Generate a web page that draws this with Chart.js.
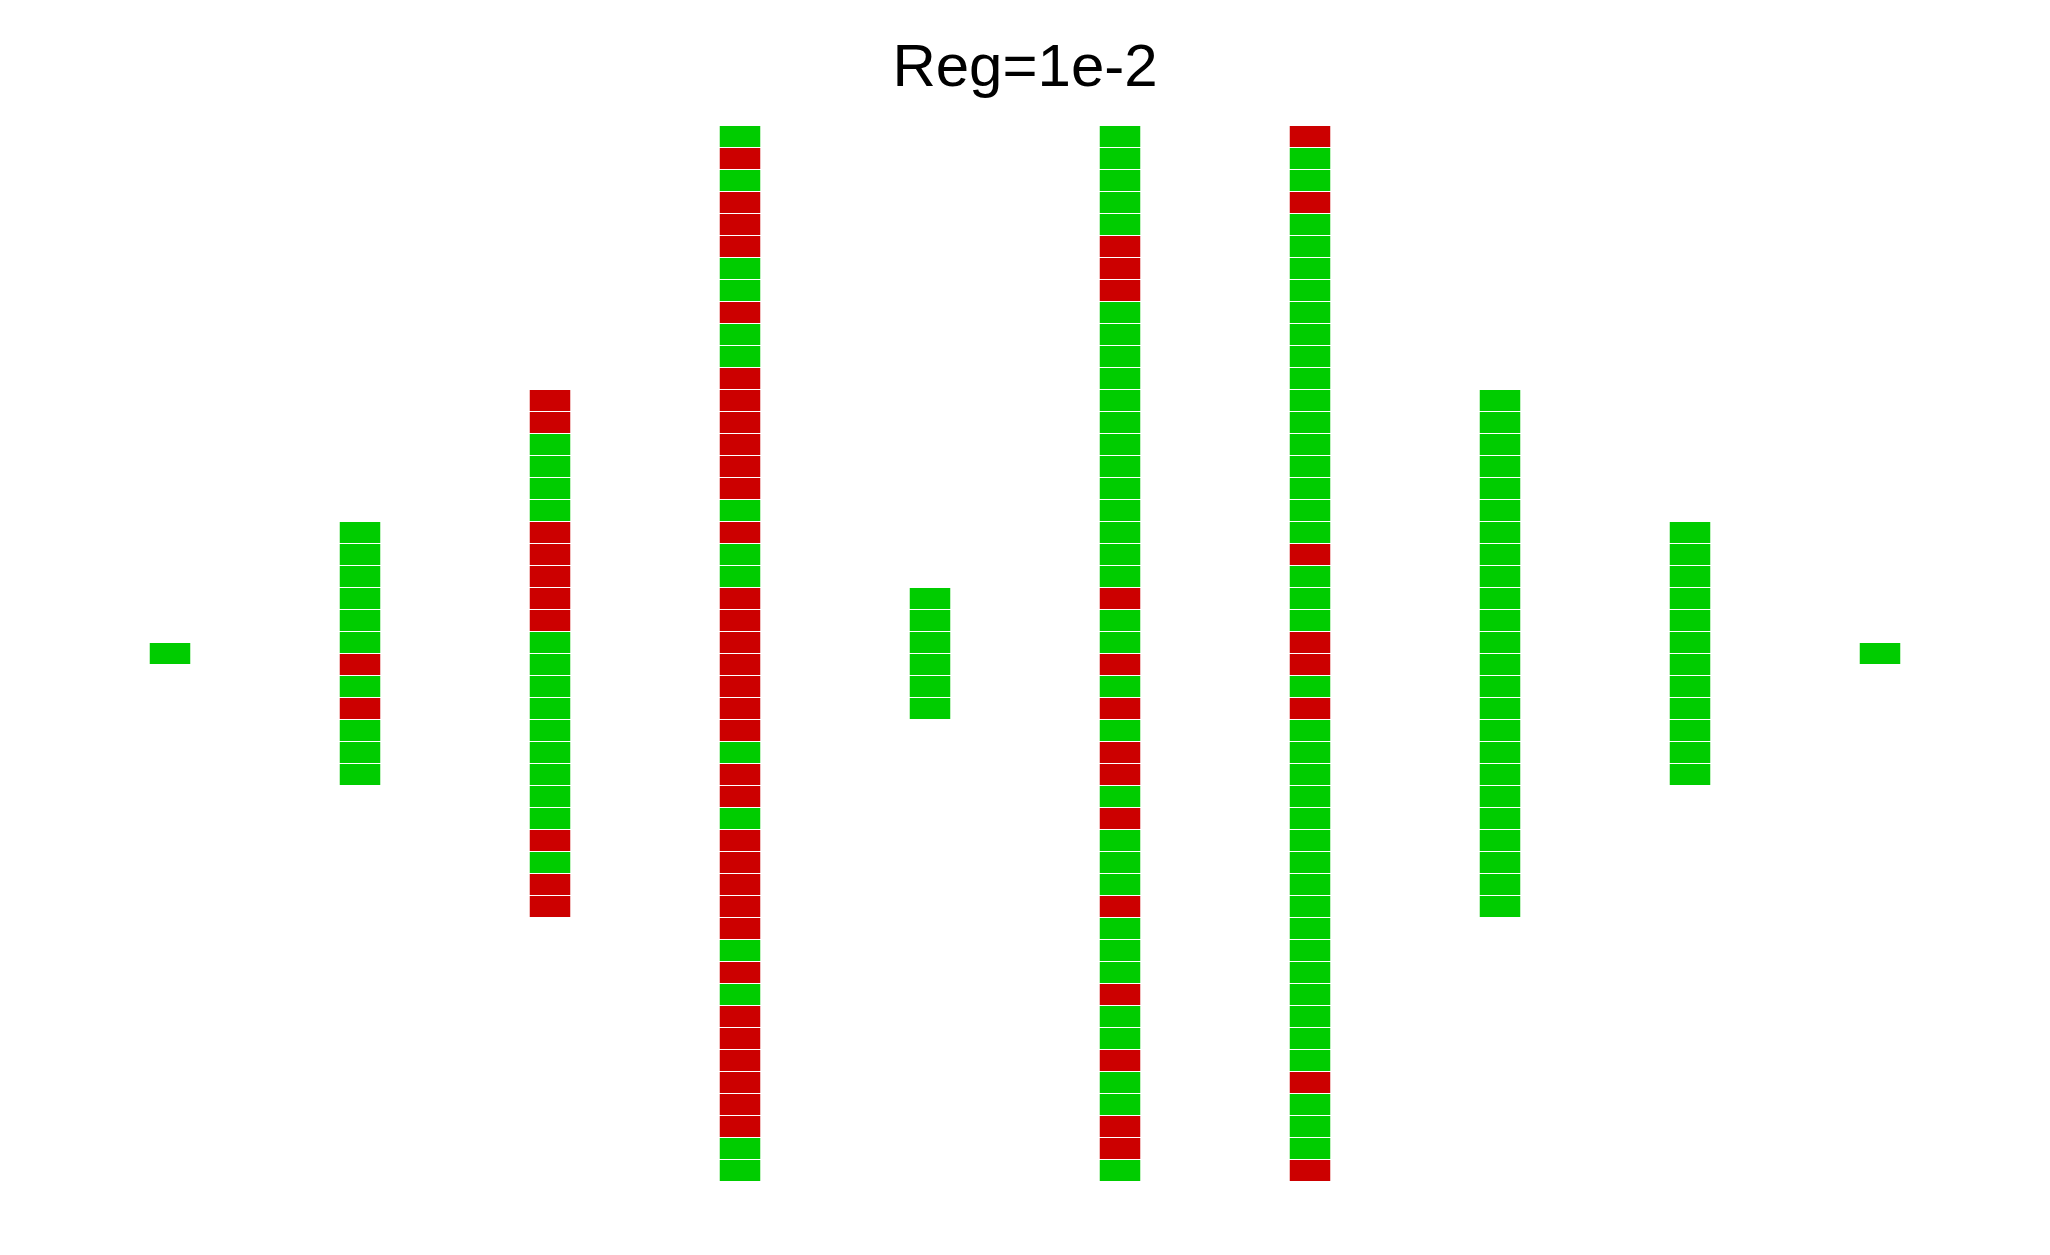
<!DOCTYPE html>
<html>
<head>
<meta charset="utf-8">
<script src="https://cdn.jsdelivr.net/npm/chart.js@4/dist/chart.umd.min.js"></script>
<style>
  html, body { margin: 0; padding: 0; background: #ffffff; }
  #wrap { width: 2050px; height: 1255px; position: relative; }
</style>
</head>
<body>
<div id="wrap"><canvas id="c"></canvas></div>
<script>
// Categories (columns) and per-column cell outcomes, listed top to bottom.
// 1 = correct (green), 0 = wrong (red)
const categories = ['1', '2', '3', '4', '5', '6', '7', '8', '9', '10'];
const col1 = [1];
const col2 = [1,1,1,1,1,1,0,1,0,1,1,1];
const col3 = [0,0,1,1,1,1,0,0,0,0,0,1,1,1,1,1,1,1,1,1,0,1,0,0];
const col4 = [1,0,1,0,0,0,1,1,0,1,1,0,0,0,0,0,0,1,0,1,1,0,0,0,
              0,0,0,0,1,0,0,1,0,0,0,0,0,1,0,1,0,0,0,0,0,0,1,1];
const col5 = [1,1,1,1,1,1];
const col6 = [1,1,1,1,1,0,0,0,1,1,1,1,1,1,1,1,1,1,1,1,1,0,1,1,
              0,1,0,1,0,0,1,0,1,1,1,0,1,1,1,0,1,1,0,1,1,0,0,1];
const col7 = [0,1,1,0,1,1,1,1,1,1,1,1,1,1,1,1,1,1,1,0,1,1,1,0,
              0,1,0,1,1,1,1,1,1,1,1,1,1,1,1,1,1,1,1,0,1,1,1,0];
const col8 = [1,1,1,1,1,1,1,1,1,1,1,1,1,1,1,1,1,1,1,1,1,1,1,1];
const col9 = [1,1,1,1,1,1,1,1,1,1,1,1];
const col10 = [1];
const columns = [col1, col2, col3, col4, col5, col6, col7, col8, col9, col10];
const titleText = 'Reg=1e-2';

const GREEN = '#00cc00';
const RED = '#cc0000';

const maxCells = Math.max(...columns.map(c => c.length));
const datasets = [];
for (let k = 0; k < maxCells; k++) {
  const data = [];
  const colors = [];
  columns.forEach(col => {
    const off = (maxCells - col.length) / 2;
    if (k < col.length) {
      data.push([off + k, off + k + 1]);
      colors.push(col[k] ? GREEN : RED);
    } else {
      data.push(null);
      colors.push(GREEN);
    }
  });
  datasets.push({
    data: data,
    backgroundColor: colors,
    borderColor: '#ffffff',
    borderWidth: { top: 1, bottom: 0, left: 0, right: 0 },
    borderSkipped: false,
    barThickness: 41,
    grouped: false,
    inflateAmount: 0
  });
}

new Chart(document.getElementById('c'), {
  type: 'bar',
  data: { labels: categories, datasets: datasets },
  options: {
    responsive: true,
    maintainAspectRatio: false,
    animation: false,
    layout: { padding: { left: 75, right: 75, top: 0, bottom: 74 } },
    plugins: {
      legend: { display: false },
      tooltip: { enabled: false },
      title: {
        display: true,
        text: titleText,
        color: '#000000',
        font: { family: 'Liberation Sans, Arial, sans-serif', size: 60, weight: 'normal', lineHeight: 1.2 },
        padding: { top: 33, bottom: 20 }
      }
    },
    scales: {
      x: { display: false, offset: true, grid: { display: false } },
      y: { display: false, min: 0, max: maxCells, reverse: true, grid: { display: false } }
    }
  }
});
</script>
</body>
</html>
